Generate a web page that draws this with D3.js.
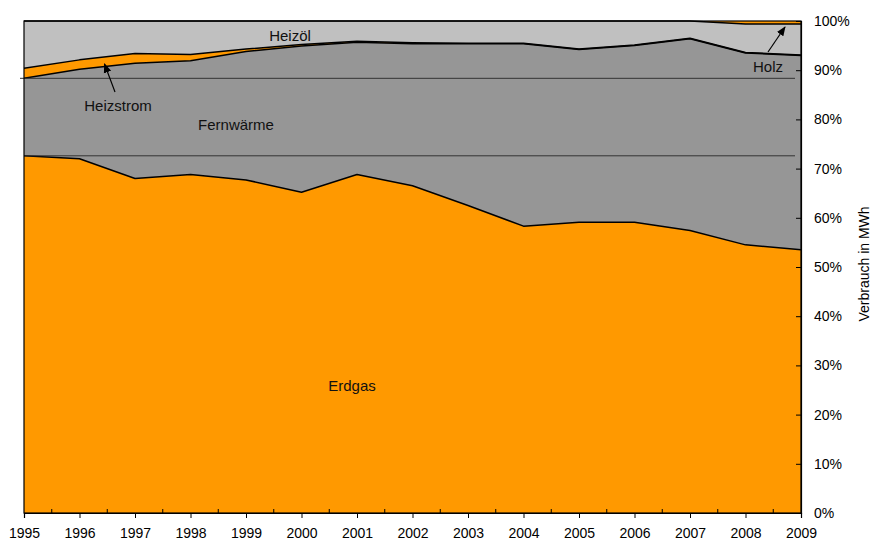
<!DOCTYPE html>
<html>
<head>
<meta charset="utf-8">
<script src="https://cdn.jsdelivr.net/npm/d3@7"></script>
<style>
  html, body { margin: 0; padding: 0; background: #fff; }
  svg { display: block; font-family: "Liberation Sans", Arial, sans-serif; }
</style>
</head>
<body>
<svg id="chart" width="873" height="540"></svg>
<script>
// Anteile am Verbrauch (Prozent) je Jahr
const years      = [1995, 1996, 1997, 1998, 1999, 2000, 2001, 2002, 2003, 2004, 2005, 2006, 2007, 2008, 2009];
const erdgas     = [72.6, 72.0, 68.0, 68.8, 67.7, 65.2, 68.8, 66.5, 62.5, 58.3, 59.1, 59.1, 57.4, 54.5, 53.5];
const fernwaerme = [15.75, 18.2, 23.4, 23.1, 26.1, 29.7, 26.9, 28.9, 32.9, 37.1, 35.1, 35.9, 39.0, 39.0, 39.5];
const heizstrom  = [2.05, 1.9, 2.0, 1.3, 0.5, 0.3, 0.2, 0.2, 0.1, 0.1, 0.1, 0.1, 0.1, 0.1, 0.1];
const heizoel    = [9.6, 7.9, 6.6, 6.8, 5.7, 4.8, 4.1, 4.4, 4.5, 4.5, 5.7, 4.9, 3.5, 5.8, 6.3];
const holz       = [0, 0, 0, 0, 0, 0, 0, 0, 0, 0, 0, 0, 0, 0.6, 0.6];

const seriesKeys = ["Erdgas", "Fernwärme", "Heizstrom", "Heizöl", "Holz"];
const seriesVals = [erdgas, fernwaerme, heizstrom, heizoel, holz];
const colors = ["#FF9900", "#969696", "#FF9900", "#C0C0C0", "#FF9900"];
const yTicks = [0, 0.1, 0.2, 0.3, 0.4, 0.5, 0.6, 0.7, 0.8, 0.9, 1.0];

const rows = years.map((yr, i) => {
  const r = { year: yr };
  seriesKeys.forEach((k, j) => r[k] = seriesVals[j][i]);
  return r;
});

const svg = d3.select("#chart");
const x = d3.scaleLinear().domain([1995, 2009]).range([24, 801]);
const y = d3.scaleLinear().domain([0, 1]).range([513, 21]);

const stack = d3.stack().keys(seriesKeys).offset(d3.stackOffsetExpand);
const layers = stack(rows);

const area = d3.area()
  .x(d => x(d.data.year))
  .y0(d => y(d[0]))
  .y1(d => y(d[1]));

svg.append("g").selectAll("path")
  .data(layers)
  .join("path")
  .attr("d", area)
  .attr("fill", (d, i) => colors[i]);

// Grenzlinien zwischen den Schichten
const topLine = d3.line().x(d => x(d.data.year)).y(d => y(d[1]));
svg.append("g").selectAll("path")
  .data(layers.slice(0, 4))
  .join("path")
  .attr("d", topLine)
  .attr("fill", "none")
  .attr("stroke", "#000")
  .attr("stroke-width", 1.5)
  .attr("stroke-linejoin", "round");

// Vergleichslinien auf dem Niveau von 1995
const lvlErdgas = erdgas[0] / 100;
const lvlFern = (erdgas[0] + fernwaerme[0]) / 100;
svg.append("line")
  .attr("x1", x(1995) - 4).attr("x2", x(2009) - 6)
  .attr("y1", y(lvlFern)).attr("y2", y(lvlFern))
  .attr("stroke", "#333").attr("stroke-width", 1);
svg.append("line")
  .attr("x1", x(1995)).attr("x2", x(2009) - 6)
  .attr("y1", y(lvlErdgas)).attr("y2", y(lvlErdgas))
  .attr("stroke", "#333").attr("stroke-width", 1);

// Rahmen
svg.append("rect")
  .attr("x", x(1995)).attr("y", y(1))
  .attr("width", x(2009) - x(1995)).attr("height", y(0) - y(1))
  .attr("fill", "none").attr("stroke", "#000").attr("stroke-width", 1.2);

// x-Achse
const xAxis = svg.append("g").attr("transform", `translate(0,${y(0)})`);
xAxis.call(d3.axisBottom(x).tickValues(years).tickFormat(d3.format("d")).tickSize(5).tickPadding(10))
  .call(g => g.select(".domain").attr("stroke", "#000").attr("stroke-width", 1.2))
  .call(g => g.selectAll("text").attr("font-size", 14).attr("fill", "#000")
                .attr("font-family", "'Liberation Sans', Arial, sans-serif"));
const halfYears = years.slice(0, -1).map(d => d + 0.5);
xAxis.selectAll("line.minor")
  .data(halfYears)
  .join("line")
  .attr("class", "minor")
  .attr("x1", d => x(d)).attr("x2", d => x(d))
  .attr("y1", 0).attr("y2", -4)
  .attr("stroke", "#000");

// y-Achse rechts
const yAxis = svg.append("g").attr("transform", `translate(${x(2009)},0)`);
yAxis.call(d3.axisRight(y).tickValues(yTicks).tickFormat(d3.format(".0%")).tickSize(-5).tickPadding(13))
  .call(g => g.select(".domain").attr("stroke", "#000").attr("stroke-width", 1.2))
  .call(g => g.selectAll("text").attr("font-size", 14).attr("fill", "#000")
                .attr("font-family", "'Liberation Sans', Arial, sans-serif"));

svg.append("text")
  .attr("transform", "translate(869,264) rotate(-90)")
  .attr("text-anchor", "middle")
  .attr("font-size", 14)
  .attr("fill", "#000")
  .text("Verbrauch in MWh");

// Beschriftungen der Flächen
const labels = [
  { t: "Heizöl", x: 290, y: 41 },
  { t: "Heizstrom", x: 118, y: 111 },
  { t: "Fernwärme", x: 236, y: 130 },
  { t: "Erdgas", x: 352, y: 391 },
  { t: "Holz", x: 768, y: 72 }
];
svg.append("g").selectAll("text")
  .data(labels)
  .join("text")
  .attr("x", d => d.x).attr("y", d => d.y)
  .attr("text-anchor", "middle")
  .attr("font-size", 15)
  .attr("fill", "#111")
  .text(d => d.t);

// Pfeile
svg.append("defs").append("marker")
  .attr("id", "arrow")
  .attr("viewBox", "0 0 10 10")
  .attr("refX", 9).attr("refY", 5)
  .attr("markerWidth", 8).attr("markerHeight", 8)
  .attr("orient", "auto")
  .append("path")
  .attr("d", "M0,1 L10,5 L0,9 Z")
  .attr("fill", "#000");

const arrows = [
  { x1: 115, y1: 92, x2: 104.5, y2: 64 },
  { x1: 768, y1: 52, x2: 785, y2: 27 }
];
svg.append("g").selectAll("line")
  .data(arrows)
  .join("line")
  .attr("x1", d => d.x1).attr("y1", d => d.y1)
  .attr("x2", d => d.x2).attr("y2", d => d.y2)
  .attr("stroke", "#000").attr("stroke-width", 1.2)
  .attr("marker-end", "url(#arrow)");
</script>
</body>
</html>
